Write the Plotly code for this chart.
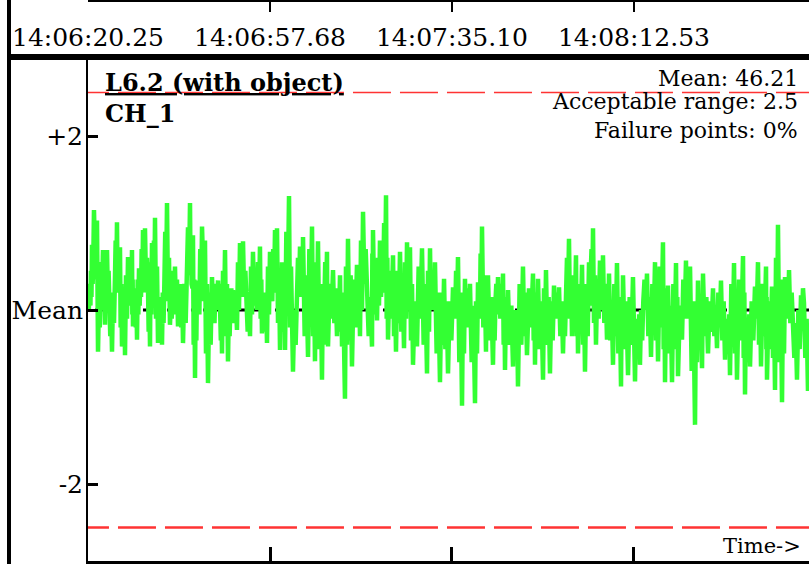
import plotly.graph_objects as go

# ---------------- data ----------------
time_labels = ["14:06:20.25", "14:06:57.68", "14:07:35.10", "14:08:12.53"]
tick_seconds = [0.0, 37.43, 74.85, 112.28]
x_end_seconds = 148.28

mean_value = 46.21
acceptable_range = 2.5
failure_points_pct = 0
y_tick_vals = [2, 0, -2]
y_tick_text = ["+2", "Mean", "-2"]

# elapsed seconds since 14:06:20.25 of the main samples and their deviation from the mean
t_sec = [0.0, 0.5, 0.82, 1.23, 1.55, 1.85, 2.06, 2.6, 3.08, 3.50, 3.91, 4.4, 4.94, 5.55, 5.96, 6.3,
         6.58, 6.99, 7.3, 7.61, 8.23, 8.65, 9.05, 9.25, 9.7, 10.08, 10.49, 10.9, 11.31, 11.5, 11.72,
         12.34, 12.75, 13.16, 13.45, 13.78, 14.40, 14.8, 15.22, 15.7, 16.25, 16.86, 17.4, 17.89,
         18.51, 19.0, 19.54, 20.36, 20.98, 21.3, 21.59, 22.01, 22.42, 22.9, 23.45, 23.75, 24.06,
         24.68, 25.50, 25.8, 26.12, 26.74, 27.2, 27.56, 28.18, 28.79, 29.3, 29.82, 30.64, 31.26,
         31.55, 31.88, 32.6, 33.32, 33.93, 34.76, 35.37, 35.78, 36.3, 36.81, 37.43, 37.9, 38.46,
         38.65, 38.87, 39.49, 39.90, 40.52, 41.34, 41.96, 42.16, 42.98, 43.60, 43.9, 44.22, 45.25,
         46.07, 46.68, 47.30, 48.12, 48.6, 49.15, 49.36, 50.39, 51.21, 51.83, 52.24, 52.5, 52.85,
         53.47, 54.29, 55.32, 55.94, 56.56, 57.38, 58.41, 58.61, 59.44, 60.05, 60.7, 61.29, 61.70,
         62.73, 63.34, 64.17, 64.99, 65.61, 65.9, 66.22, 66.84, 67.2, 67.66, 68.69, 69.72, 70.34,
         70.8, 71.36, 72.39, 73.22, 74.04, 75.07, 75.5, 76.09, 76.92, 77.53, 78.0, 78.56, 79.59,
         80.21, 80.6, 81.03, 81.85, 82.26, 83.29, 83.8, 84.32, 84.8, 85.35, 85.76, 86.38, 87.41,
         87.9, 88.43, 89.46, 90.28, 91.52, 91.93, 92.55, 93.58, 94.19, 95.01, 95.84, 96.3, 96.87,
         97.69, 98.3, 98.92, 99.54, 100.36, 100.77, 101.60, 102.21, 103.04, 103.4, 103.86, 104.47,
         105.30, 105.6, 105.91, 106.74, 107.15, 107.97, 108.79, 109.62, 110.03, 111.06, 112.08,
         112.50, 113.0, 113.52, 114.2, 114.96, 115.79, 116.61, 117.23, 118.25, 118.67, 119.28,
         120.11, 120.93, 121.34, 121.7, 122.16, 122.98, 123.4, 123.81, 124.84, 125.45, 126.28,
         126.48, 127.51, 128.54, 129.36, 130.18, 131.01, 131.5, 132.03, 132.86, 133.47, 134.71,
         135.12, 135.6, 136.15, 137.17, 137.5, 137.79, 138.41, 139.44, 139.64, 140.67, 141.29,
         141.90, 142.73, 143.35, 143.7, 144.17, 144.99, 145.81, 146.64, 147.25, 148.07, 148.5]

deviation = [0.25, 0.05, 0.75, 1.15, 0.35, 1.03, -0.48, 0.2, 0.69, -0.17, 0.69, 0.1, -0.48, 0.38, 1.01, 0.2,
             0.72, -0.42, 0.05, -0.52, 0.61, 0.1, 0.69, -0.19, 0.25, -0.34, 0.48, 0.15, 0.92, 0.3, 0.94,
             0.26, -0.42, 0.77, 0.2, 1.06, -0.38, 0.15, -0.40, 0.3, 1.23, -0.17, 0.2, 0.50,
             -0.19, 0.3, -0.38, 0.38, 1.23, 0.3, 0.86, -0.78, 0.34, -0.05, 0.96, 0.35, 0.80,
             -0.84, 0.38, -0.1, 0.08, 0.34, -0.1, -0.50, 0.69, -0.59, 0.1, 0.23, -0.23, 0.77,
             0.2, 0.79, 0.1, -0.30, 0.67, 0.00, 0.73, -0.27, 0.2, -0.38, 0.67, 0.1, 0.92,
             0.4, 0.94, -0.46, 0.55, -0.46, 1.31, -0.57, -0.71, 0.17, 0.73, 0.2, 0.84, -0.54,
             0.96, -0.59, 0.79, -0.80, 0.2, 0.67, -0.42, 0.46, -0.30, 0.40, -0.42, 0.1, -1.02,
             0.82, -0.65, 0.52, -0.30, 1.13, 0.26, -0.42, 0.92, -0.12, 0.80, 0.2, 1.32, -0.34,
             0.63, -0.48, 0.67, -0.44, 0.78, 0.2, 0.72, -0.63, 0.1, -0.42, 0.71, -0.73, 0.71,
             0.0, 0.55, -0.83, 0.36, -0.73, 0.26, -0.1, 0.61, -1.10, 0.36, -0.2, 0.30, -1.07,
             0.32, -0.1, 0.96, -0.48, 0.40, -0.63, 0.1, 0.38, -0.1, 0.42, -0.69, 0.23, -0.65,
             0.0, -0.88, 0.50, -0.52, 0.42, -0.63, 0.36, -0.80, 0.46, -0.73, 0.28, -0.1, 0.26,
             -0.50, 0.1, 0.82, -0.30, 0.63, -0.50, 0.52, -0.71, 0.55, 0.1, 0.94, -0.40,
             0.57, 0.0, 0.63, -0.34, 0.42, -0.63, 0.54, -0.88, 0.40, -0.75, 0.38,
             -0.82, -0.1, -0.63, 0.1, 0.42, -0.54, 0.55, -0.59, 0.78, -0.83, 0.28,
             -0.83, 0.54, -0.76, 0.0, -0.34, 0.57, -0.1, 0.50, -1.32, 0.34, -0.67,
             0.42, -0.50, 0.25, -0.44, 0.34, -0.57, -0.1, -0.75, 0.54, -0.80, 0.62,
             -0.97, -0.1, -0.65, 0.27, -0.1, 0.55, -0.65, 0.50, -0.80, 0.27, -0.92,
             0.98, -1.06, 0.38, -0.1, 0.46, -0.28, -0.80, 0.17, 0.08, -0.93, -0.2]

# two small in-between readings for every gap between consecutive main samples
ripple = [
    (0.0, 0.3), (0.45, 0.15), (0.3, 0.6), (0.5, 0.8), (0.8, 0.4), (0.0, 0.45), (0.1, -0.2), (0.55, 0.25),
    (0.0, 0.4), (0.5, 0.1), (0.2, 0.45), (-0.3, 0.0), (0.2, -0.15), (0.8, 0.35), (0.3, 0.65), (0.6, 0.2),
    (-0.2, 0.3), (-0.05, -0.3), (-0.35, 0.1), (0.4, -0.1), (0.15, 0.4), (0.5, 0.05), (-0.05, 0.35),
    (0.15, -0.1), (-0.2, 0.15), (0.35, -0.05), (0.05, 0.35), (0.7, 0.2), (0.35, 0.6), (0.75, 0.2),
    (0.3, 0.6), (-0.25, 0.2), (0.55, -0.05), (0.1, 0.45), (0.8, 0.3), (-0.1, 0.5), (0.05, -0.2),
    (-0.25, 0.1), (0.2, -0.15), (0.9, 0.35), (0.1, 0.6), (0.1, -0.1), (0.45, 0.1), (-0.05, 0.35),
    (0.25, -0.1), (-0.2, 0.2), (0.3, -0.15), (0.95, 0.4), (0.4, 0.8), (0.7, 0.25), (-0.4, 0.35),
    (0.2, -0.35), (0.0, 0.3), (0.7, 0.1), (0.4, 0.7), (0.65, 0.3), (-0.5, 0.3), (0.2, -0.4),
    (-0.05, 0.3), (0.1, -0.15), (0.3, 0.0), (0.0, 0.3), (-0.35, 0.0), (0.45, -0.1), (-0.3, 0.3),
    (0.0, -0.3), (0.25, 0.0), (-0.15, 0.2), (0.55, 0.0), (0.15, 0.5), (0.65, 0.2), (0.15, 0.45),
    (-0.25, 0.1), (0.5, -0.05), (0.05, 0.4), (0.55, 0.1), (-0.1, 0.35), (0.15, -0.1), (-0.25, 0.15),
    (0.5, -0.05), (0.15, 0.45), (0.7, 0.2), (0.45, 0.7), (0.8, 0.35), (-0.15, 0.45), (0.4, -0.1),
    (-0.25, 0.3), (0.9, 0.1), (-0.2, 0.5), (-0.3, -0.6), (0.0, -0.4), (0.6, 0.15), (0.25, 0.5),
    (0.65, 0.15), (-0.3, 0.4), (0.7, -0.1), (-0.3, 0.4), (0.55, -0.15), (-0.45, 0.3), (0.05, -0.4),
    (0.55, 0.15), (-0.2, 0.3), (0.3, -0.1), (-0.15, 0.25), (0.25, -0.1), (-0.25, 0.2), (0.0, -0.25),
    (-0.6, 0.0), (0.5, -0.4), (-0.35, 0.4), (0.35, -0.2), (-0.1, 0.3), (0.8, 0.0), (0.3, 0.7),
    (-0.3, 0.15), (0.65, -0.05), (0.0, 0.5), (0.6, 0.05), (0.15, 0.5), (1.0, 0.3), (-0.1, 0.6),
    (0.45, -0.1), (-0.3, 0.25), (0.45, -0.15), (-0.25, 0.3), (0.55, -0.1), (0.15, 0.5), (0.6, 0.1),
    (-0.35, 0.3), (0.0, -0.35), (-0.3, 0.05), (0.5, -0.1), (-0.4, 0.3), (0.45, -0.25), (0.05, 0.4),
    (0.45, 0.0), (-0.5, 0.2), (0.2, -0.4), (-0.45, 0.1), (0.1, -0.35), (-0.05, 0.2), (0.45, -0.05),
    (-0.6, 0.2), (0.15, -0.5), (-0.15, 0.25), (0.2, -0.1), (-0.6, 0.05), (0.1, -0.5), (-0.05, 0.25),
    (0.65, 0.05), (-0.2, 0.4), (0.25, -0.15), (-0.35, 0.15), (0.0, -0.35), (0.3, 0.0), (-0.05, 0.25),
    (0.3, -0.05), (-0.4, 0.15), (0.1, -0.35), (-0.4, 0.05), (-0.1, -0.4), (-0.55, -0.1), (0.3, -0.4),
    (-0.3, 0.2), (0.25, -0.2), (-0.35, 0.15), (0.2, -0.3), (-0.45, 0.1), (0.25, -0.35), (-0.4, 0.15),
    (0.1, -0.35), (-0.05, 0.15), (0.2, -0.1), (-0.3, 0.1), (0.0, -0.3), (0.6, 0.1), (-0.1, 0.4),
    (0.4, -0.1), (-0.3, 0.25), (0.3, -0.2), (-0.4, 0.15), (0.3, -0.3), (0.05, 0.35), (0.7, 0.15),
    (-0.15, 0.4), (0.35, -0.1), (0.05, 0.35), (0.45, 0.05), (-0.15, 0.3), (0.25, -0.15), (-0.35, 0.1),
    (0.3, -0.3), (-0.5, 0.15), (0.15, -0.45), (-0.45, 0.1), (0.15, -0.4), (-0.5, 0.05), (-0.2, -0.55),
    (-0.45, -0.05), (0.0, -0.35), (0.35, 0.0), (-0.3, 0.15), (0.3, -0.2), (-0.35, 0.2), (0.5, -0.2),
    (-0.45, 0.25), (0.1, -0.45), (-0.5, 0.05), (0.3, -0.35), (-0.45, 0.15), (-0.1, -0.45), (-0.25, 0.05),
    (0.35, -0.1), (-0.05, 0.3), (0.35, -0.05), (-0.7, 0.1), (0.1, -0.6), (-0.4, 0.1), (0.25, -0.3),
    (-0.3, 0.15), (0.1, -0.25), (-0.3, 0.05), (0.2, -0.2), (-0.35, 0.1), (-0.15, -0.4), (-0.5, -0.05),
    (0.3, -0.35), (-0.5, 0.15), (0.35, -0.35), (-0.55, 0.2), (-0.2, -0.6), (-0.45, -0.05), (0.1, -0.35),
    (-0.05, 0.15), (0.4, -0.05), (-0.4, 0.2), (0.3, -0.3), (-0.45, 0.15), (0.1, -0.45), (-0.55, 0.0),
    (0.6, -0.4), (-0.6, 0.35), (0.15, -0.5), (-0.05, 0.25), (0.3, -0.05), (-0.15, 0.2), (-0.55, -0.15),
    (0.0, -0.45), (-0.1, 0.25), (-0.55, -0.1), (-0.35, -0.65),
]

# merge main samples with the in-between readings (placed at thirds of each gap)
line_t, line_v = [], []
for i in range(len(t_sec)):
    line_t.append(t_sec[i])
    line_v.append(deviation[i])
    if i < len(t_sec) - 1 and i < len(ripple):
        gap = t_sec[i + 1] - t_sec[i]
        line_t += [t_sec[i] + gap / 3, t_sec[i] + 2 * gap / 3]
        line_v += list(ripple[i])

# ---------------- figure ----------------
SERIF = "DejaVu Serif"
W, H = 809, 564
L, R, T, B = 88, 0, 0, 3
plot_top_px = 60
paper_h = H - T - B
y_dom_top = (paper_h - plot_top_px) / paper_h
y_range = [-2.885, 2.874]


def px_x(p):
    return (p - L) / (W - L - R)


def px_y(p):
    return (paper_h - p) / paper_h


fig = go.Figure()

fig.add_trace(go.Scatter(
    x=line_t, y=line_v, mode="lines",
    line=dict(color="#33ff33", width=4.5),
    hoverinfo="skip", showlegend=False))

# invisible helpers so that the upper panel axes are drawn
for ax in ["x2", "x3"]:
    fig.add_trace(go.Scatter(
        x=tick_seconds, y=[0] * len(tick_seconds), xaxis=ax, yaxis="y",
        mode="markers", marker=dict(opacity=0, size=1),
        hoverinfo="skip", showlegend=False))

axis_common = dict(showgrid=False, zeroline=False, automargin=False)

fig.update_layout(
    width=W, height=H, autosize=False,
    margin=dict(l=L, r=R, t=T, b=B, pad=0),
    paper_bgcolor="white", plot_bgcolor="white",
    showlegend=False,
    xaxis=dict(domain=[0, 1], anchor="y", range=[0, x_end_seconds],
               tickvals=tick_seconds, showticklabels=False,
               ticks="inside", ticklen=14, tickwidth=3, tickcolor="black",
               showline=True, linewidth=3, linecolor="black", **axis_common),
    xaxis2=dict(overlaying="x", anchor="free", position=1, side="bottom",
                range=[0, x_end_seconds], tickvals=tick_seconds, ticktext=time_labels,
                ticks="", showline=False, ticklabelstandoff=20,
                tickfont=dict(family=SERIF, size=25, color="black"), **axis_common),
    xaxis3=dict(overlaying="x", anchor="free", position=1, side="bottom",
                range=[0, x_end_seconds], tickvals=tick_seconds[1:],
                showticklabels=False, ticks="outside", ticklen=10, tickwidth=2,
                tickcolor="black", showline=True, linewidth=4, linecolor="black",
                **axis_common),
    yaxis=dict(domain=[0, y_dom_top], anchor="x", range=y_range,
               tickvals=y_tick_vals, ticktext=y_tick_text,
               ticks="inside", ticklen=10, tickwidth=3, tickcolor="black",
               ticklabelstandoff=-2,
               tickfont=dict(family=SERIF, size=25, color="black"),
               showline=True, linewidth=2, linecolor="black", **axis_common),
)

# limit lines and mean line
fig.add_shape(type="line", xref="x", yref="y", x0=-3.5, x1=x_end_seconds,
              y0=0, y1=0, line=dict(color="black", width=3, dash="8px,4px"), layer="below")
for lim, w in [(acceptable_range, 1.5), (-acceptable_range, 2.5)]:
    fig.add_shape(type="line", xref="x", yref="y", x0=-3.5, x1=x_end_seconds,
                  y0=lim, y1=lim, line=dict(color="#ff3333", width=w, dash="38px,9px"),
                  layer="below")

# frame lines
fig.add_shape(type="line", xref="paper", yref="paper", x0=px_x(9), x1=px_x(9),
              y0=-0.02, y1=1.02, line=dict(color="black", width=4))
fig.add_shape(type="line", xref="paper", yref="paper", x0=px_x(7), x1=1.02,
              y0=px_y(57), y1=px_y(57), line=dict(color="black", width=6))

# texts
fig.add_annotation(xref="paper", yref="paper", x=px_x(103), y=px_y(82.5),
                   xanchor="left", yanchor="middle", showarrow=False,
                   text="<b>L6.2 (with object)</b>",
                   font=dict(family=SERIF, size=24, color="black", lineposition="under"))
fig.add_annotation(xref="paper", yref="paper", x=px_x(103), y=px_y(113),
                   xanchor="left", yanchor="middle", showarrow=False,
                   text="<b>CH_1</b>",
                   font=dict(family=SERIF, size=24, color="black"))
info_lines = [f"Mean: {mean_value:.2f}",
              f"Acceptable range: {acceptable_range}",
              f"Failure points: {failure_points_pct}%"]
for txt, py in zip(info_lines, [78.5, 101.5, 130.5]):
    fig.add_annotation(xref="paper", yref="paper", x=px_x(800), y=px_y(py),
                       xanchor="right", yanchor="middle", showarrow=False,
                       text=txt, font=dict(family=SERIF, size=22, color="black"))
fig.add_annotation(xref="paper", yref="paper", x=px_x(803), y=px_y(545.5),
                   xanchor="right", yanchor="middle", showarrow=False,
                   text="Time->", font=dict(family=SERIF, size=21, color="black"))

# remove the default 8px page margin so the chart sits at the window's corner
fig.write_html("out.html", config={"displayModeBar": False},
               post_script="document.body.style.margin='0px';")
